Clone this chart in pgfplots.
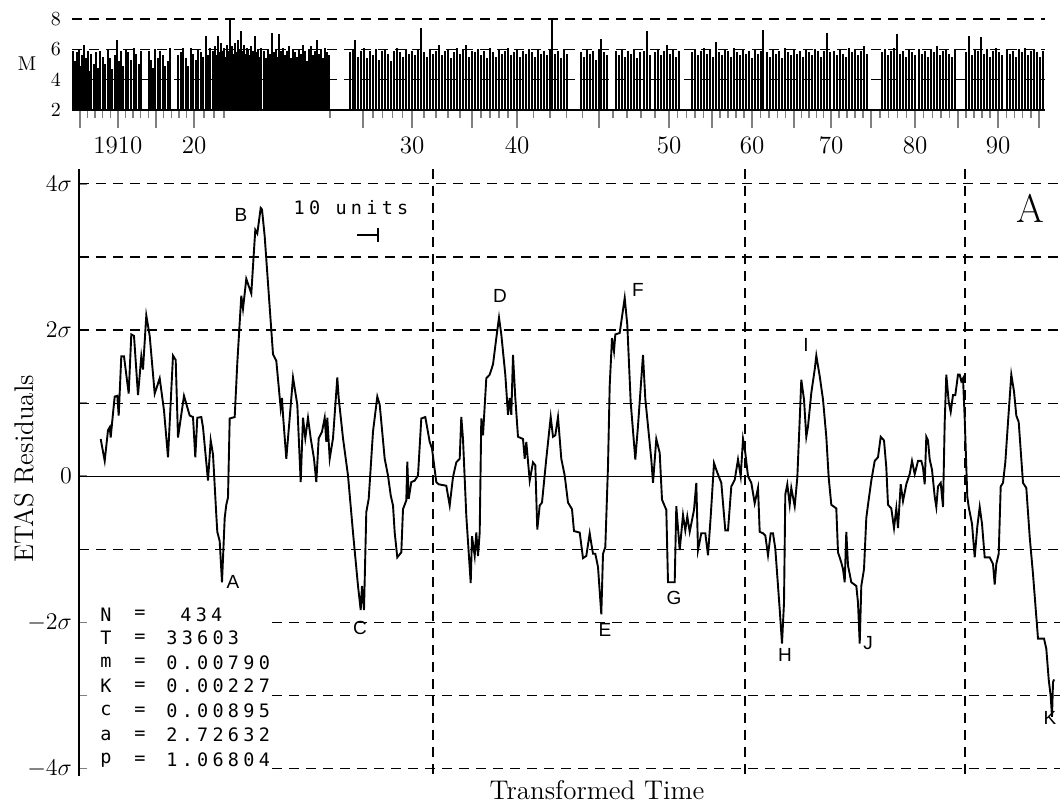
\documentclass[border=0pt]{standalone}
\usepackage{fontspec}
\usepackage{pgfplots}
\pgfplotsset{compat=1.18}
\newfontfamily\plotfont{DejaVu Sans Mono}[LetterSpace=23]
\newfontfamily\lblfont{Liberation Sans}

\pgfplotstableread{
x M
73 5.9
75 5.2
77 5.8
79 6.0
80 4.9
82 5.6
84 6.3
86 5.4
88 5.9
89 4.6
91 5.7
94 5.0
96 5.8
98 4.8
100 5.9
103 5.5
105 5.0
108 6.0
110 5.4
112 4.7
115 5.6
117 6.6
119 5.2
121 5.9
123 4.9
126 6.0
128 5.8
131 5.3
134 6.1
136 5.7
139 5.0
141 5.9
149 5.9
151 5.3
153 4.8
155 6.0
158 5.4
160 5.9
163 5.6
165 4.9
168 5.2
170 6.1
178 5.6
181 5.8
183 6.1
186 5.4
188 4.9
191 6.1
193 5.7
196 5.3
198 6.0
201 5.8
203 5.5
206 6.9
208 5.6
210 6.1
213 5.9
215 6.2
217 5.6
218 6.9
220 5.8
221 6.4
223 5.9
224 6.1
226 5.5
227 6.3
229 5.9
230 8.0
232 6.2
233 5.7
235 6.4
236 5.8
238 6.6
239 6.0
241 7.2
242 5.9
244 6.3
245 5.7
247 6.1
248 6.0
250 5.6
251 6.2
253 5.9
255 6.9
256 5.8
258 6.0
259 5.5
261 6.1
264 5.9
266 5.4
268 6.0
270 5.7
272 7.1
274 5.8
276 6.0
278 5.5
279 7.0
281 5.9
283 6.1
285 5.6
287 5.9
289 6.2
291 5.4
293 6.0
295 5.8
297 5.5
299 6.0
301 5.7
303 6.3
305 5.9
307 5.2
309 6.0
311 6.2
313 5.6
315 5.9
317 6.6
319 5.7
321 6.0
323 5.4
325 6.1
327 5.8
329 5.6
350 5.8
353 6.0
355 6.6
358 5.5
361 5.9
364 6.1
367 5.4
370 5.9
373 5.6
376 6.0
379 5.3
382 5.9
385 6.0
388 5.7
391 5.2
394 5.9
397 6.1
400 5.8
403 5.5
406 6.0
409 5.7
412 5.9
415 5.6
418 6.0
421 7.4
424 5.8
427 5.5
430 6.0
433 5.7
436 5.9
439 6.3
442 5.6
445 5.9
448 6.0
451 5.4
454 5.8
457 6.1
460 5.7
463 6.0
466 6.3
469 5.5
472 5.9
475 5.8
478 6.0
481 5.6
484 5.9
487 5.4
490 6.1
493 5.8
496 5.5
499 6.0
502 5.7
505 5.9
508 6.1
511 5.6
514 5.8
517 6.0
520 5.5
523 5.9
526 5.7
529 6.0
532 5.8
535 5.5
538 6.0
541 5.7
544 5.9
547 5.6
550 6.0
552 8.0
555 5.7
558 5.9
561 5.4
564 6.0
567 5.7
581 5.8
584 5.5
587 6.0
590 5.7
593 5.9
596 5.3
599 6.0
601 6.7
604 5.8
607 5.6
616 5.9
619 5.6
622 6.0
625 5.5
628 5.9
631 5.7
634 6.0
637 5.4
640 5.8
644 5.9
647 7.2
650 5.6
655 5.8
658 6.0
661 5.6
664 5.9
667 6.3
670 5.7
673 6.0
676 5.5
679 5.9
692 5.8
695 6.0
698 5.6
701 5.9
704 6.1
707 5.7
710 6.0
713 5.5
716 6.5
719 5.8
722 5.6
725 6.0
728 5.9
731 5.5
734 6.1
737 5.8
740 5.6
743 6.0
746 5.7
749 5.9
752 5.4
755 6.0
758 5.7
761 5.9
763 7.3
767 5.8
770 5.5
773 6.0
776 5.7
779 5.9
782 5.4
785 6.1
788 5.8
791 5.6
794 6.0
797 5.7
800 5.9
803 5.5
806 6.0
809 5.8
812 5.6
815 6.0
818 5.9
821 5.5
824 5.9
827 7.1
830 5.8
834 5.9
837 5.6
840 6.0
843 5.7
846 5.5
849 6.1
852 5.8
855 6.0
858 5.6
861 5.9
864 6.2
867 5.7
882 5.8
885 6.0
888 5.6
891 5.9
894 6.1
897 7.0
900 5.7
903 5.9
906 5.5
909 6.0
912 5.8
915 5.6
919 6.0
922 5.7
925 5.9
928 5.5
931 6.0
934 5.8
937 6.2
940 5.6
943 5.9
946 6.0
949 5.7
952 5.5
955 6.0
966 5.8
969 6.9
972 5.6
975 6.0
978 5.9
981 6.8
984 5.7
987 6.0
990 5.5
993 5.9
996 6.1
999 5.8
1002 5.6
1007 6.0
1010 5.7
1013 5.9
1016 5.5
1019 6.0
1022 5.8
1025 6.1
1028 5.6
1031 5.9
1034 6.0
1037 5.8
1040 5.5
1043 5.9
}\quakes

\begin{document}
\begin{tikzpicture}
\useasboundingbox (0pt,0pt) rectangle (530pt,401pt);
% ---------------- top panel: magnitudes ----------------
\begin{axis}[
  at={(36pt,346pt)}, anchor=south west, scale only axis,
  width=486.5pt, height=47.8pt,
  xmin=72, xmax=1045, ymin=2, ymax=8.3,
  axis x line*=bottom, axis y line*=left,
  axis line style={-, line width=0.8pt},
  y axis line style={draw=none},
  ytick={2,4,6,8}, ytick style={draw=none},
  yticklabel style={font=\fontsize{10}{12}\selectfont, xshift=-2pt},
  ymajorgrids, grid style={dash pattern=on 5pt off 3.5pt, line width=0.6pt, black},
  xtick={80,118,156,194,363,412,472,517,599,669,712,752,794,831,871,915,958,998,1039},
  xticklabels={,1910,,20,,30,,40,,50,,60,,70,,80,,90,},
  minor xtick={87.6,95.2,102.8,110.4,125.6,133.2,140.8,148.4,163.6,171.2,178.8,186.4,204,214,224,330,372.8,382.6,392.4,402.2,424,436,448,460,481,490,499,508,533.4,549.8,566.2,582.6,613,627,641,655,677.6,686.2,694.8,703.4,720,728,736,744,760.4,768.8,777.2,785.6,801.4,808.8,816.2,823.6,839,847,855,863,879.8,888.6,897.4,906.2,923.6,932.2,940.8,949.4,966,974,982,990,1006.2,1014.4,1022.6,1030.8},
  xtick align=outside, major tick length=9pt, minor tick length=4pt,
  xtick style={line width=0.7pt},
  xticklabel style={font=\fontsize{12.5}{14}\selectfont, yshift=-1pt},
  clip mode=individual,
]
\addplot[ycomb, black, line width=0.55pt, mark=none] table[x=x, y=M] {\quakes};
\node[font=\fontsize{10}{12}\selectfont] at (axis cs:27,5.03) {M};
\end{axis}

% ---------------- main panel: residuals ----------------
\begin{axis}[
  at={(39.5pt,13pt)}, anchor=south west, scale only axis,
  width=490.5pt, height=303.4pt,
  xmin=79, xmax=1060, ymin=-4.1, ymax=4.2,
  axis x line=none, axis y line*=left,
  axis line style={-, line width=1pt},
  ytick={-4,-3,-2,-1,0,1,2,3,4},
  yticklabels={$-4\sigma$,,$-2\sigma$,,$0$,,$2\sigma$,,$4\sigma$},
  ytick align=inside, major tick length=4pt,
  ytick style={line width=0.8pt},
  yticklabel style={font=\fontsize{13}{15}\selectfont},
  clip=false,
]
% grid
\draw[dash pattern=on 5pt off 3.5pt, line width=0.6pt] (axis cs:79,4) -- (axis cs:1060,4);
\draw[dash pattern=on 5pt off 3.5pt, line width=0.6pt] (axis cs:79,3) -- (axis cs:1060,3);
\draw[dash pattern=on 5pt off 3.5pt, line width=0.6pt] (axis cs:79,2) -- (axis cs:1060,2);
\draw[dash pattern=on 5pt off 3.5pt, line width=0.6pt] (axis cs:79,1) -- (axis cs:1060,1);
\draw[dash pattern=on 5pt off 3.5pt, line width=0.6pt] (axis cs:79,-1) -- (axis cs:1060,-1);
\draw[dash pattern=on 5pt off 3.5pt, line width=0.6pt] (axis cs:272,-2) -- (axis cs:1060,-2);
\draw[dash pattern=on 5pt off 3.5pt, line width=0.6pt] (axis cs:272,-3) -- (axis cs:1060,-3);
\draw[dash pattern=on 5pt off 3.5pt, line width=0.6pt] (axis cs:272,-4) -- (axis cs:1060,-4);
\draw[dash pattern=on 5pt off 3.5pt, line width=0.7pt] (axis cs:433,4.2) -- (axis cs:433,-4.1);
\draw[dash pattern=on 5pt off 3.5pt, line width=0.7pt] (axis cs:745,4.2) -- (axis cs:745,-4.1);
\draw[dash pattern=on 5pt off 3.5pt, line width=0.7pt] (axis cs:965,4.2) -- (axis cs:965,-4.1);
\draw[line width=0.6pt] (axis cs:79,0) -- (axis cs:1060,0);

\addplot[black, line width=0.95pt, mark=none] coordinates {
(100.7,0.51)(104.7,0.21)(108,0.63)(109.7,0.67)(110.7,0.53)(113,0.86)(114.7,1.09)(117.3,1.10)(118.7,0.83)(121.3,1.64)(124,1.64)(128.7,1.13)(131.3,1.94)(134,1.92)(138,1.11)(141.3,1.64)(143,1.46)(146.3,2.20)(149.7,1.92)(154.7,1.13)(159.7,1.34)(164,0.90)(168,0.26)(173,1.65)(175.7,1.59)(178,0.53)(184,1.10)(189.7,0.83)(193,0.81)(195.3,0.26)(197.3,0.80)(201.3,0.81)(203,0.67)(208,-0.06)(210.7,0.49)(213,0.30)(216.3,-0.53)(217.3,-0.76)(219.7,-0.89)(222,-1.45)(224.7,-0.57)(226.3,-0.39)(228,-0.29)(229.7,0.79)(234.7,0.81)(237.3,1.55)(241.3,2.47)(243,2.29)(246.3,2.70)
(251.3,2.50)(254,3.09)(255.3,3.37)(257.3,3.32)(260.7,3.67)(262,3.65)(264.7,3.28)(269.7,2.31)(273,1.67)(276.3,1.58)(280.7,0.93)(282,1.07)(283,0.84)(286.3,0.24)(289.7,0.80)(293,1.35)(297.3,0.98)(300.7,-0.08)(303,0.80)(305.3,0.52)(308,0.80)(310.7,0.52)(314,0.24)(316.3,-0.08)(318.7,0.52)(322,0.61)(324.7,0.80)(326.3,0.47)(327.3,0.80)(329.7,0.24)(333,0.52)(337.3,1.35)(338.7,1.07)(343,0.52)(348,0.01)(353,-0.77)(358,-1.50)(360.7,-1.83)(362,-1.50)(364,-1.83)(366.3,-0.49)(368.7,-0.31)(373,0.61)(377.3,1.09)(379.7,0.98)(384.7,0.24)(388,0.01)(390.7,-0.26)(393,-0.40)(394.7,-0.77)(397.3,-1.11)(401.3,-1.04)(403,-0.45)(406.3,-0.33)(407.3,0.20)(408.7,-0.31)(411.3,-0.08)(414.7,-0.06)(418,0.01)
(421.3,0.79)(425.3,0.81)(429.7,0.47)(432,0.38)(436.3,-0.08)(438.7,-0.11)(446.3,-0.13)(449.7,-0.40)(453,-0.01)(456.3,0.19)(459.7,0.24)(461.3,0.81)(463,0.51)(466.3,-0.54)(470.7,-1.46)(472,-0.82)(474.7,-1.09)(476.3,-0.77)(478,-1.09)(479.7,-0.77)(481.3,0.79)(483,0.56)(486.3,1.34)(489.7,1.39)(493,1.53)(496.3,1.89)(499,2.17)(501.3,1.94)(505.3,1.39)(508,0.84)(509.7,1.07)(511.3,0.84)(513,1.66)(515.3,1.07)(518,0.54)(523,0.51)(524.7,0.24)(526.3,0.47)(529.7,-0.06)(533,0.19)(535.3,0.15)(537.3,-0.73)(539.7,-0.40)(542,-0.36)(546.3,0.24)(550.7,0.81)(553,0.54)(555.3,0.56)(558,0.81)(561.3,0.24)(564.7,0.01)(568,-0.36)(572,-0.45)(574,-0.75)(579.7,-0.77)(583,-1.12)(586.3,-1.09)
(589.7,-0.78)(591.3,-0.92)(593,-1.06)(595.3,-1.06)(598,-1.24)(601.3,-1.89)(603,-1.06)(605.3,-0.97)(608,0.14)(609.7,1.24)(612,1.89)(614,1.71)(615.3,1.94)(619.7,1.96)(624.7,2.44)(627.3,2.07)(630.7,1.01)(635.3,0.23)(638,0.69)(643,1.66)(645.3,1.06)(651.3,0.23)(653,-0.09)(656.3,0.51)(659.7,0.32)(662,-0.32)(666.3,-0.46)(668,-1.45)(674.7,-1.45)(676.3,-0.41)(679.7,-1.01)(683,-0.53)(685.3,-0.74)(687.3,-0.55)(689.7,-0.76)(694,-0.46)(696.3,-0.09)(698,-1.01)(701.3,-0.78)(705.3,-0.78)(708,-1.08)(710.7,-0.55)(714,0.18)(717.3,0.05)(721.3,-0.09)(725.3,-0.74)(728,-0.74)(731.3,-0.14)(734.7,-0.05)(738,0.23)(740.7,0.00)(743,0.51)(745.3,0.32)(748,0.00)(751.3,-0.09)(754.7,-0.37)
(758,-0.16)(759.7,-0.76)(763,-0.78)(765.3,-0.81)(768,-1.08)(770.7,-0.78)(773,-0.78)(775.3,-0.99)(779.7,-1.82)(782,-2.29)(784,-1.73)(785.3,-0.25)(787.3,-0.11)(789.7,-0.39)(791.3,-0.16)(794.7,-0.41)(797.3,-0.02)(799.7,0.77)(801.3,1.32)(804,1.05)(806.3,0.54)(808,0.68)(811.3,1.14)(814.7,1.46)(816.3,1.65)(819.7,1.37)(823,1.05)(826.3,0.54)(828.7,-0.02)(831.3,-0.39)(836.3,-0.44)(838,-1.04)(841.3,-1.18)(843,-1.27)(844.7,-1.45)(846.3,-0.76)(848,-1.22)(851.3,-1.45)(856.3,-1.50)(858,-1.73)(859.7,-2.29)(861.3,-1.50)(864,-1.27)(866.3,-0.57)(868,-0.39)(871.3,-0.06)(874.7,0.21)(878,0.26)(880.7,0.54)(884,0.49)(886.3,0.12)(888,-0.39)(891.3,-0.44)(894,-0.71)(896.3,-0.44)(898,-0.71)(900.7,-0.11)(903,-0.34)(906.3,-0.11)(909.7,0.03)(912,0.21)(914.7,0.03)(918,0.21)(921.3,0.21)(923,0.12)(924.7,-0.11)(926.3,0.54)(928,0.49)
(929.7,0.23)(932,0.09)(934.7,-0.28)(936.3,-0.42)(938,-0.14)(940.7,-0.09)(943,-0.42)(944.7,0.74)(946.3,1.39)(948.7,1.02)(950.7,0.88)(953,1.11)(955.3,1.11)(958,1.39)(959.7,1.39)(961.3,1.30)(963,1.34)(964.7,0.79)(967.3,-0.28)(968.7,-0.42)(972,-0.65)(974.7,-1.11)(977.3,-0.69)(979.7,-0.42)(982,-0.65)(984.7,-1.11)(989.7,-1.11)(993,-1.20)(994.7,-1.48)(996.3,-1.20)(998.7,-1.06)(1000.7,-0.14)(1003,-0.09)(1005.3,0.19)(1008,0.74)(1011.3,1.39)(1014,1.16)(1016.3,0.83)(1018.7,0.74)(1023,-0.09)(1026.3,-0.16)(1029.7,-0.83)(1033,-1.34)(1038,-2.22)(1044,-2.22)(1046.3,-2.36)(1048.7,-2.78)(1050.7,-3.01)(1052,-3.29)(1053,-2.82)(1054,-2.78)
};

% point labels
\node[font=\lblfont\fontsize{9.5}{11}\selectfont, inner sep=0pt] at (axis cs:233,-1.44) {A};
\node[font=\lblfont\fontsize{9.5}{11}\selectfont, inner sep=0pt] at (axis cs:241,3.58) {B};
\node[font=\lblfont\fontsize{9.5}{11}\selectfont, inner sep=0pt] at (axis cs:360,-2.07) {C};
\node[font=\lblfont\fontsize{9.5}{11}\selectfont, inner sep=0pt] at (axis cs:500,2.46) {D};
\node[font=\lblfont\fontsize{9.5}{11}\selectfont, inner sep=0pt] at (axis cs:605,-2.10) {E};
\node[font=\lblfont\fontsize{9.5}{11}\selectfont, inner sep=0pt] at (axis cs:638,2.55) {F};
\node[font=\lblfont\fontsize{9.5}{11}\selectfont, inner sep=0pt] at (axis cs:674,-1.66) {G};
\node[font=\lblfont\fontsize{9.5}{11}\selectfont, inner sep=0pt] at (axis cs:785,-2.44) {H};
\node[font=\lblfont\fontsize{9.5}{11}\selectfont, inner sep=0pt] at (axis cs:806,1.80) {I};
\node[font=\lblfont\fontsize{9.5}{11}\selectfont, inner sep=0pt] at (axis cs:868,-2.28) {J};
\node[font=\lblfont\fontsize{9.5}{11}\selectfont, inner sep=0pt] at (axis cs:1050,-3.30) {K};

% scale bar
\node[font=\plotfont\fontsize{9.25}{11}\selectfont, inner sep=0pt] at (axis cs:351,3.67) {10 units};
\draw[line width=0.8pt] (axis cs:357,3.30) -- (axis cs:378,3.30);
\draw[line width=0.8pt] (axis cs:378,3.40) -- (axis cs:378,3.20);

% panel letter
\node[font=\fontsize{20}{22}\selectfont] at (axis cs:1030,3.67) {A};

% parameter block
\node[font=\plotfont\fontsize{9.25}{11}\selectfont, inner sep=0pt, anchor=west] at (axis cs:100,-1.89) {N};
\node[font=\plotfont\fontsize{9.25}{11}\selectfont, inner sep=0pt, anchor=west] at (axis cs:100,-2.21) {T};
\node[font=\plotfont\fontsize{9.25}{11}\selectfont, inner sep=0pt, anchor=west] at (axis cs:100,-2.55) {m};
\node[font=\plotfont\fontsize{9.25}{11}\selectfont, inner sep=0pt, anchor=west] at (axis cs:100,-2.87) {K};
\node[font=\plotfont\fontsize{9.25}{11}\selectfont, inner sep=0pt, anchor=west] at (axis cs:100,-3.21) {c};
\node[font=\plotfont\fontsize{9.25}{11}\selectfont, inner sep=0pt, anchor=west] at (axis cs:100,-3.54) {a};
\node[font=\plotfont\fontsize{9.25}{11}\selectfont, inner sep=0pt, anchor=west] at (axis cs:100,-3.88) {p};
\node[font=\plotfont\fontsize{9.25}{11}\selectfont, inner sep=0pt, anchor=west] at (axis cs:134,-1.89) {=};
\node[font=\plotfont\fontsize{9.25}{11}\selectfont, inner sep=0pt, anchor=west] at (axis cs:134,-2.21) {=};
\node[font=\plotfont\fontsize{9.25}{11}\selectfont, inner sep=0pt, anchor=west] at (axis cs:134,-2.55) {=};
\node[font=\plotfont\fontsize{9.25}{11}\selectfont, inner sep=0pt, anchor=west] at (axis cs:134,-2.87) {=};
\node[font=\plotfont\fontsize{9.25}{11}\selectfont, inner sep=0pt, anchor=west] at (axis cs:134,-3.21) {=};
\node[font=\plotfont\fontsize{9.25}{11}\selectfont, inner sep=0pt, anchor=west] at (axis cs:134,-3.54) {=};
\node[font=\plotfont\fontsize{9.25}{11}\selectfont, inner sep=0pt, anchor=west] at (axis cs:134,-3.88) {=};
\node[font=\plotfont\fontsize{9.25}{11}\selectfont, inner sep=0pt, anchor=west] at (axis cs:180,-1.89) {434};
\node[font=\plotfont\fontsize{9.25}{11}\selectfont, inner sep=0pt, anchor=west] at (axis cs:166,-2.21) {33603};
\node[font=\plotfont\fontsize{9.25}{11}\selectfont, inner sep=0pt, anchor=west] at (axis cs:166,-2.55) {0.00790};
\node[font=\plotfont\fontsize{9.25}{11}\selectfont, inner sep=0pt, anchor=west] at (axis cs:166,-2.87) {0.00227};
\node[font=\plotfont\fontsize{9.25}{11}\selectfont, inner sep=0pt, anchor=west] at (axis cs:166,-3.21) {0.00895};
\node[font=\plotfont\fontsize{9.25}{11}\selectfont, inner sep=0pt, anchor=west] at (axis cs:166,-3.54) {2.72632};
\node[font=\plotfont\fontsize{9.25}{11}\selectfont, inner sep=0pt, anchor=west] at (axis cs:166,-3.88) {1.06804};

% axis titles
\node[rotate=90, font=\fontsize{13.5}{15}\selectfont] at (axis cs:24,0.10) {ETAS Residuals};
\node[font=\fontsize{13.5}{15}\selectfont] at (axis cs:597,-4.29) {Transformed Time};
\end{axis}
\end{tikzpicture}
\end{document}
